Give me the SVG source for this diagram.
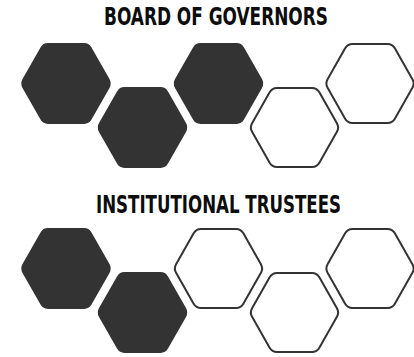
<svg xmlns="http://www.w3.org/2000/svg" width="414" height="357" viewBox="0 0 414 357">
  <style>
    .title { font-family: "DejaVu Sans Condensed", "Liberation Sans", sans-serif; font-weight: bold; font-size: 19px; fill: #0d0d0d; }
    .filled { fill: #333333; }
    .outline { fill: #ffffff; stroke: #333333; stroke-width: 2.05; }
  </style>
  <defs>
    <path id="hex" d="M -43.5 -4.33 L -25.5 -35.51 Q -23 -39.84 -18 -39.84 L 18 -39.84 Q 23 -39.84 25.5 -35.51 L 43.5 -4.33 Q 46 0 43.5 4.33 L 25.5 35.51 Q 23 39.84 18 39.84 L -18 39.84 Q -23 39.84 -25.5 35.51 L -43.5 4.33 Q -46 0 -43.5 -4.33 Z"/>
  </defs>
  <rect width="414" height="357" fill="#ffffff"/>

  <g id="title-board">
    <text class="title" transform="translate(104,25) scale(1,1.32)" x="0" y="0" textLength="224" lengthAdjust="spacingAndGlyphs">BOARD OF GOVERNORS</text>
  </g>
  <g id="board-hexes">
    <g id="board-1"><use href="#hex" class="filled" transform="translate(66,83.5) scale(1,1.015)"/></g>
    <g id="board-2"><use href="#hex" class="filled" transform="translate(142.5,127.5) scale(1,1.015)"/></g>
    <g id="board-3"><use href="#hex" class="filled" transform="translate(218.5,83.5) scale(1,1.015)"/></g>
    <g id="board-4"><use href="#hex" class="outline" transform="translate(294.5,127.5) scale(0.975,0.99)"/></g>
    <g id="board-5"><use href="#hex" class="outline" transform="translate(370,83.5) scale(0.975,0.99)"/></g>
  </g>

  <g id="title-trustees">
    <text class="title" transform="translate(96,213) scale(1,1.32)" x="0" y="0" textLength="245" lengthAdjust="spacingAndGlyphs">INSTITUTIONAL TRUSTEES</text>
  </g>
  <g id="trustee-hexes">
    <g id="trustee-1"><use href="#hex" class="filled" transform="translate(66,268.5) scale(1,1.015)"/></g>
    <g id="trustee-2"><use href="#hex" class="filled" transform="translate(142.5,312.5) scale(1,1.015)"/></g>
    <g id="trustee-3"><use href="#hex" class="outline" transform="translate(218.5,268.5) scale(0.975,0.99)"/></g>
    <g id="trustee-4"><use href="#hex" class="outline" transform="translate(294.5,312.5) scale(0.975,0.99)"/></g>
    <g id="trustee-5"><use href="#hex" class="outline" transform="translate(370,268.5) scale(0.975,0.99)"/></g>
  </g>
  <g id="connectors"/>
</svg>
